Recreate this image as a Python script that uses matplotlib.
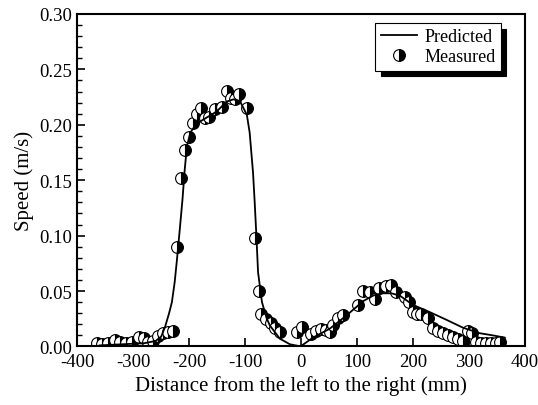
import matplotlib
matplotlib.use('Agg')
import matplotlib.pyplot as plt
from matplotlib.ticker import MultipleLocator

plt.rcParams['font.family'] = ['Liberation Serif', 'DejaVu Serif']
plt.rcParams['axes.unicode_minus'] = False

# measured points
measured_x = [-365, -356, -346, -333, -324, -313, -303, -289, -281, -273, -264, -255,
              -246, -238, -229, -222, -215, -208, -200, -193, -187, -179, -172, -164,
              -154, -142, -133, -126, -118, -111, -96, -83, -75, -71, -63, -54, -46,
              -38, -8, 1, 17, 27, 36, 44, 51, 57, 66, 74, 102, 110, 123, 132, 139,
              151, 161, 170, 185, 193, 199, 207, 215, 227, 236, 245, 254, 263, 271,
              280, 289, 298, 306, 313, 322, 331, 340, 348, 355]
measured_y = [0.003, 0.0025, 0.003, 0.006, 0.0045, 0.003, 0.004, 0.009, 0.0075, 0.0045,
              0.005, 0.0095, 0.012, 0.0135, 0.014, 0.090, 0.152, 0.177, 0.189, 0.202,
              0.2095, 0.215, 0.206, 0.2075, 0.214, 0.216, 0.2305, 0.2245, 0.223, 0.228,
              0.215, 0.0975, 0.050, 0.029, 0.025, 0.021, 0.017, 0.013, 0.013, 0.018,
              0.011, 0.014, 0.016, 0.015, 0.013, 0.019, 0.026, 0.028, 0.0375, 0.050,
              0.049, 0.043, 0.053, 0.055, 0.0557, 0.049, 0.045, 0.040, 0.031, 0.029,
              0.029, 0.026, 0.017, 0.014, 0.012, 0.0105, 0.009, 0.007, 0.005, 0.014,
              0.012, 0.004, 0.003, 0.003, 0.003, 0.003, 0.004]

# predicted curve
predicted_x = [-360, -320, -280, -260, -250, -243, -236, -231, -226, -222, -217, -212,
               -208, -204, -198, -187, -169, -151, -133, -121, -109, -97, -92, -86,
               -83, -80, -77, -70, -62, -56, -38, -20, -5, 0, 10, 21, 51, 81, 111,
               129, 146, 161, 176, 200, 230, 260, 289, 319, 343, 364]
predicted_y = [0.001, 0.002, 0.003, 0.005, 0.009, 0.018, 0.030, 0.040, 0.058, 0.078,
               0.105, 0.133, 0.160, 0.181, 0.193, 0.201, 0.2065, 0.212, 0.221, 0.223,
               0.221, 0.209, 0.193, 0.157, 0.130, 0.100, 0.067, 0.040, 0.026, 0.019,
               0.007, 0.002, 0.0005, 0.0005, 0.004, 0.008, 0.016, 0.028, 0.041,
               0.046, 0.048, 0.048, 0.046, 0.0375, 0.031, 0.024, 0.017, 0.012, 0.010,
               0.008]

fig = plt.figure(figsize=(5.38, 4.06), dpi=100)
ax = fig.add_axes([0.1437, 0.1441, 0.8321, 0.819])

ax.plot(measured_x, measured_y, 'o', ms=8.5, fillstyle='right',
        mfc='black', mfcalt='white', mec='black', mew=0.8,
        label='Measured', zorder=2)
ax.plot(predicted_x, predicted_y, '-', color='black', lw=1.3,
        label='Predicted', zorder=3)

ax.set_xlim(-400, 400)
ax.set_ylim(0, 0.30)
ax.xaxis.set_major_locator(MultipleLocator(100))
ax.yaxis.set_major_locator(MultipleLocator(0.05))
ax.yaxis.set_minor_locator(MultipleLocator(0.01))
ax.yaxis.set_major_formatter(plt.FormatStrFormatter('%.2f'))
ax.tick_params(which='both', direction='in', top=False, right=False, labelsize=13.5)
ax.tick_params(which='major', length=6, width=1.2)
ax.tick_params(axis='x', pad=5)
ax.tick_params(which='minor', length=3.5, width=1.0)
for s in ax.spines.values():
    s.set_linewidth(1.5)

ax.set_xlabel('Distance from the left to the right (mm)', fontsize=15, labelpad=3)
ax.set_ylabel('Speed (m/s)', fontsize=15, labelpad=4)

handles, labels = ax.get_legend_handles_labels()
leg = ax.legend(handles[::-1], labels[::-1], loc='upper right',
                bbox_to_anchor=(0.946, 0.973), borderaxespad=0, fontsize=13,
                fancybox=False, framealpha=1, edgecolor='black',
                shadow={'ox': 4, 'oy': -4, 'shade': 1.0, 'alpha': 1},
                handlelength=2.0, handletextpad=0.4, borderpad=0.3, labelspacing=0.15)
leg.get_frame().set_linewidth(0.8)

fig.savefig('out.png', dpi=100)
